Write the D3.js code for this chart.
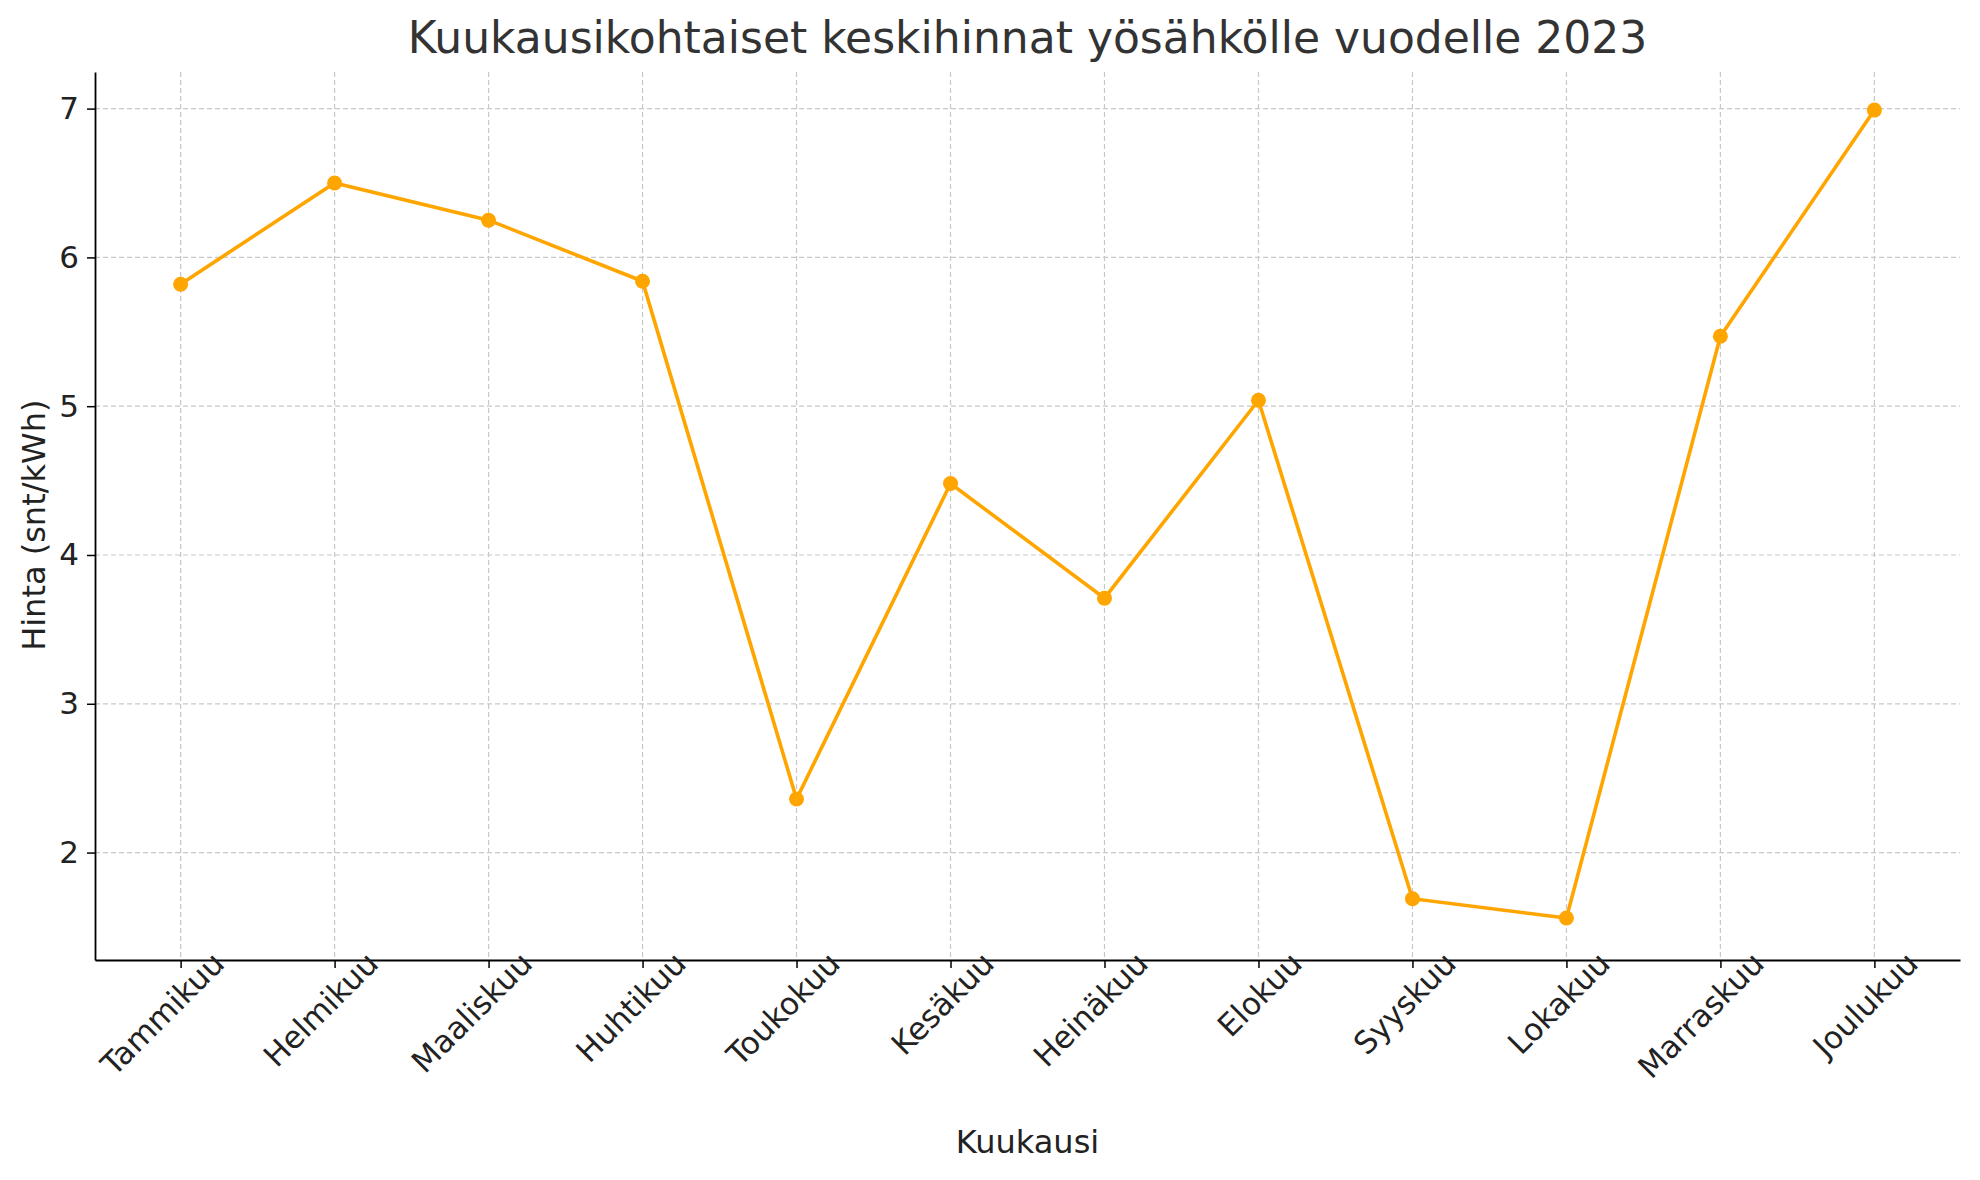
<!doctype html>
<html lang="en">
<head>
  <meta charset="utf-8" />
  <title>Kuukausikohtaiset keskihinnat</title>
  <script src="https://d3js.org/d3.v7.min.js"></script>
  <style>
    body { margin: 0; background: #fff; }
    text { font-family: "DejaVu Sans", sans-serif; fill: #222; }
  </style>
</head>
<body>
  <svg id="chart"></svg>
  <script>
    // data
    const months = ["Tammikuu", "Helmikuu", "Maaliskuu", "Huhtikuu", "Toukokuu", "Kesäkuu",
      "Heinäkuu", "Elokuu", "Syyskuu", "Lokakuu", "Marraskuu", "Joulukuu"];
    const prices = [5.82, 6.50, 6.25, 5.84, 2.36, 4.48, 3.71, 5.04, 1.69, 1.56, 5.47, 6.99];
    const yTicks = [2, 3, 4, 5, 6, 7];

    const width = 1980, height = 1180;
    const margin = { left: 95, right: 20, top: 72, bottom: 220 };

    const svg = d3.select("#chart").attr("width", width).attr("height", height);

    const x = d3.scalePoint()
      .domain(months)
      .range([margin.left, width - margin.right])
      .padding(0.556);

    const y = d3.scaleLinear()
      .domain([1.278, 7.246])
      .range([height - margin.bottom, margin.top]);

    // grid
    svg.append("g").selectAll("line.v").data(months).join("line")
      .attr("x1", d => x(d)).attr("x2", d => x(d))
      .attr("y1", margin.top).attr("y2", height - margin.bottom)
      .attr("stroke", "#c8c8c8").attr("stroke-dasharray", "5,3").attr("stroke-width", 1.2);
    svg.append("g").selectAll("line.h").data(yTicks).join("line")
      .attr("x1", margin.left).attr("x2", width - margin.right)
      .attr("y1", d => y(d)).attr("y2", d => y(d))
      .attr("stroke", "#c8c8c8").attr("stroke-dasharray", "5,3").attr("stroke-width", 1.2);

    // axes
    const xAxis = svg.append("g")
      .attr("transform", "translate(0," + (height - margin.bottom) + ")")
      .call(d3.axisBottom(x).tickSize(8).tickSizeOuter(0).tickPadding(6));
    xAxis.select(".domain").attr("stroke-width", 1.8);
    xAxis.selectAll(".tick line").attr("stroke-width", 1.5);
    xAxis.selectAll("text")
      .attr("font-size", 31)
      .attr("text-anchor", "end")
      .attr("dx", "0.9em").attr("dy", "0.7em")
      .attr("transform", "rotate(-45)");

    const yAxis = svg.append("g")
      .attr("transform", "translate(" + margin.left + ",0)")
      .call(d3.axisLeft(y).tickValues(yTicks).tickFormat(d3.format("d"))
        .tickSize(8).tickSizeOuter(0).tickPadding(8));
    yAxis.select(".domain").attr("stroke-width", 1.8);
    yAxis.selectAll(".tick line").attr("stroke-width", 1.5);
    yAxis.selectAll("text").attr("font-size", 31);

    // line + markers
    const line = d3.line().x((d, i) => x(months[i])).y(d => y(d));
    svg.append("path").datum(prices)
      .attr("d", line).attr("fill", "none")
      .attr("stroke", "#FFA500").attr("stroke-width", 3.6);
    svg.append("g").selectAll("circle").data(prices).join("circle")
      .attr("cx", (d, i) => x(months[i])).attr("cy", d => y(d))
      .attr("r", 7.5).attr("fill", "#FFA500");

    // titles
    svg.append("text").attr("x", (margin.left + width - margin.right) / 2).attr("y", 53)
      .attr("text-anchor", "middle").attr("font-size", 44).style("fill", "#333")
      .text("Kuukausikohtaiset keskihinnat yösähkölle vuodelle 2023");
    svg.append("text").attr("x", (margin.left + width - margin.right) / 2).attr("y", 1153)
      .attr("text-anchor", "middle").attr("font-size", 32)
      .text("Kuukausi");
    svg.append("text")
      .attr("transform", "translate(45," + (y(4.2)) + ") rotate(-90)")
      .attr("text-anchor", "middle").attr("font-size", 32)
      .text("Hinta (snt/kWh)");
  </script>
</body>
</html>
